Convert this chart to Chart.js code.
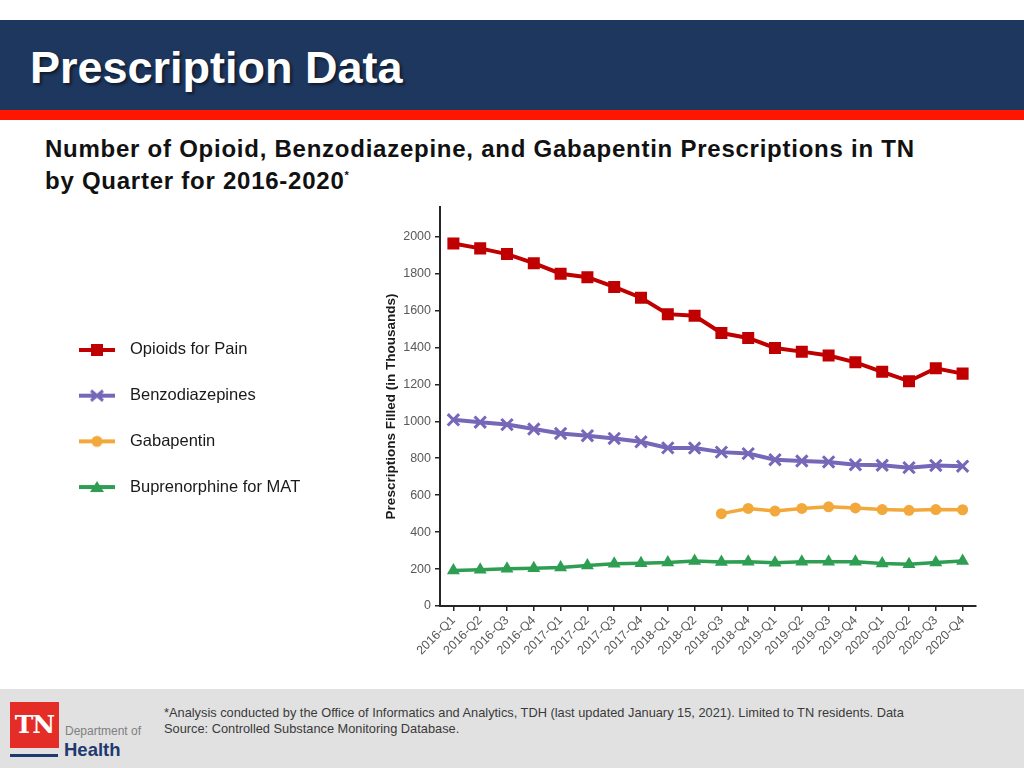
<!DOCTYPE html>
<html lang="en">
<head>
<meta charset="utf-8">
<title>Prescription Data</title>
<script src="https://cdn.jsdelivr.net/npm/chart.js@4.4.1/dist/chart.umd.min.js"></script>
<style>
  html, body { margin: 0; padding: 0; }
  body {
    width: 1024px; height: 768px; position: relative; overflow: hidden;
    background: #ffffff; font-family: Arial, "Liberation Sans", Helvetica, sans-serif;
  }
  .bandeau { position: absolute; left: 0; top: 20px; width: 1024px; height: 90px; background: #1e375e; }
  .liseret { position: absolute; left: 0; top: 110px; width: 1024px; height: 10px; background: #ff1500; }
  .titre {
    position: absolute; left: 30px; top: 45px; margin: 0;
    font-size: 45px; line-height: 45px; font-weight: bold; color: #ffffff;
    text-shadow: 2px 2px 3px rgba(0, 0, 0, 0.55);
  }
  .sous-titre {
    position: absolute; left: 45px; top: 133px; margin: 0;
    font-size: 24px; line-height: 32px; font-weight: bold; color: #111111; letter-spacing: 0.75px;
  }
  .sous-titre sup { font-size: 11px; vertical-align: 10px; line-height: 0; }
  #zone { position: absolute; left: 43px; top: 190px; }
  .pied { position: absolute; left: 0; top: 689px; width: 1024px; height: 79px; background: #e1e1e1; }
  .note {
    position: absolute; left: 164px; top: 705px; margin: 0;
    font-size: 12.8px; line-height: 16px; color: #3a3a3a;
  }
  .logo-tn {
    position: absolute; left: 10px; top: 702px; width: 49px; height: 46px; background: #e42d26;
    color: #ffffff; font-family: "DejaVu Serif", "Liberation Serif", serif; font-weight: bold;
    font-size: 25px; line-height: 46px; text-align: center; letter-spacing: -1px;
  }
  .logo-trait { position: absolute; left: 10px; top: 754px; width: 48px; height: 3px; background: #1f3a6e; }
  .logo-dep { position: absolute; left: 65px; top: 725px; font-size: 12px; line-height: 13px; color: #7f7f7f; }
  .logo-sante {
    position: absolute; left: 64px; top: 740px; font-size: 18.5px; line-height: 19px;
    font-weight: bold; color: #1f3a6e;
  }
</style>
</head>
<body>
<div class="bandeau"></div>
<div class="liseret"></div>
<h1 class="titre">Prescription Data</h1>
<p class="sous-titre">Number of Opioid, Benzodiazepine, and Gabapentin Prescriptions in TN<br>by Quarter for 2016-2020<sup>*</sup></p>

<canvas id="zone" width="947" height="480"></canvas>

<div class="pied"></div>
<p class="note">*Analysis conducted by the Office of Informatics and Analytics, TDH (last updated January 15, 2021). Limited to TN residents. Data<br>Source: Controlled Substance Monitoring Database.</p>
<div class="logo-tn">TN</div>
<div class="logo-trait"></div>
<div class="logo-dep">Department of</div>
<div class="logo-sante">Health</div>

<script>
// Trimestres 2016-2020
const TRIMESTRES = [
    '2016-Q1', '2016-Q2', '2016-Q3', '2016-Q4',
    '2017-Q1', '2017-Q2', '2017-Q3', '2017-Q4',
    '2018-Q1', '2018-Q2', '2018-Q3', '2018-Q4',
    '2019-Q1', '2019-Q2', '2019-Q3', '2019-Q4',
    '2020-Q1', '2020-Q2', '2020-Q3', '2020-Q4'
];

// Prescriptions délivrées (en milliers)
const OPIOIDES = [1962, 1936, 1905, 1856, 1799, 1780, 1727, 1669, 1580, 1571,
                  1478, 1451, 1397, 1377, 1356, 1319, 1268, 1217, 1287, 1258];
const BENZODIAZEPINES = [1008, 995, 982, 958, 934, 922, 907, 889, 856, 855,
                         833, 825, 792, 785, 780, 765, 762, 749, 761, 757];
const GABAPENTINE = [null, null, null, null, null, null, null, null, null, null,
                     500, 528, 514, 528, 537, 531, 522, 518, 522, 521];
const BUPRENORPHINE = [192, 196, 201, 204, 209, 219, 229, 232, 235, 243,
                       238, 240, 234, 239, 240, 240, 230, 226, 235, 244];

// Graduations de l'axe vertical
const GRADUATIONS_Y = [0, 200, 400, 600, 800, 1000, 1200, 1400, 1600, 1800, 2000];

const COULEURS = {
    opioides : '#c00000',
    benzo    : '#7667b8',
    gaba     : '#f2a83a',
    bupre    : '#2e9e52'
};

Chart.defaults.font.family = 'Arial, "Liberation Sans", Helvetica, sans-serif';

/**
 * Petite icône de légende : un trait avec le marqueur au milieu.
 */
function creerIcone(couleur, forme) {
    const c = document.createElement('canvas');
    c.width = 36;
    c.height = 16;
    const ctx = c.getContext('2d');
    ctx.strokeStyle = couleur;
    ctx.fillStyle = couleur;
    ctx.lineWidth = 4;
    ctx.beginPath();
    ctx.moveTo(0, 8);
    ctx.lineTo(36, 8);
    ctx.stroke();

    ctx.beginPath();
    if (forme === 'rect') {
        ctx.fillRect(12, 2, 12, 12);
    } else if (forme === 'croix') {
        ctx.lineWidth = 3;
        ctx.moveTo(12, 3); ctx.lineTo(24, 13);
        ctx.moveTo(24, 3); ctx.lineTo(12, 13);
        ctx.stroke();
    } else if (forme === 'rond') {
        ctx.arc(18, 8, 5.5, 0, Math.PI * 2);
        ctx.fill();
    } else {
        ctx.moveTo(18, 2); ctx.lineTo(25, 13); ctx.lineTo(11, 13);
        ctx.closePath();
        ctx.fill();
    }
    return c;
}

const ICONES = [
    creerIcone(COULEURS.opioides, 'rect'),
    creerIcone(COULEURS.benzo, 'croix'),
    creerIcone(COULEURS.gaba, 'rond'),
    creerIcone(COULEURS.bupre, 'triangle')
];

// Élargit la légende pour laisser l'espace avant l'axe Y
const largeurLegende = {
    id : 'largeurLegende',
    beforeInit(chart) {
        const fitOrigine = chart.legend.fit;
        chart.legend.fit = function () {
            fitOrigine.call(this);
            this.width = 340;
        };
    }
};

const axeCommun = {
    border : { color: '#262626', width: 2 },
    grid   : { drawOnChartArea: false, tickLength: 5, color: '#262626', lineWidth: 1.5 }
};

new Chart(document.getElementById('zone'), {
    type : 'line',
    data : {
        labels   : TRIMESTRES,
        datasets : [
            {
                label            : 'Opioids for Pain',
                data             : OPIOIDES,
                borderColor      : COULEURS.opioides,
                backgroundColor  : COULEURS.opioides,
                borderWidth      : 4,
                pointStyle       : 'rect',
                pointRadius      : 8.5,
                pointBorderWidth : 0
            },
            {
                label            : 'Benzodiazepines',
                data             : BENZODIAZEPINES,
                borderColor      : COULEURS.benzo,
                backgroundColor  : COULEURS.benzo,
                borderWidth      : 4,
                pointStyle       : 'crossRot',
                pointRadius      : 8,
                pointBorderWidth : 3
            },
            {
                label            : 'Gabapentin',
                data             : GABAPENTINE,
                borderColor      : COULEURS.gaba,
                backgroundColor  : COULEURS.gaba,
                borderWidth      : 3.5,
                pointStyle       : 'circle',
                pointRadius      : 5.5,
                pointBorderWidth : 0
            },
            {
                label            : 'Buprenorphine for MAT',
                data             : BUPRENORPHINE,
                borderColor      : COULEURS.bupre,
                backgroundColor  : COULEURS.bupre,
                borderWidth      : 3.5,
                pointStyle       : 'triangle',
                pointRadius      : 7.5,
                pointBorderWidth : 0
            }
        ]
    },
    options : {
        responsive : false,
        animation  : false,
        layout     : { padding: { top: 17, right: 14, bottom: 14, left: 0 } },
        elements   : { line: { tension: 0 } },
        plugins : {
            tooltip : { enabled: false },
            legend  : {
                position : 'left',
                align    : 'start',
                title    : { display: true, text: '', font: { size: 10 }, padding: { top: 93.5, bottom: 0 } },
                labels   : {
                    usePointStyle   : true,
                    pointStyleWidth : 49.5,
                    padding         : 29.2,
                    color           : '#1a1a1a',
                    font            : { size: 16.5 },
                    generateLabels(chart) {
                        const items = Chart.defaults.plugins.legend.labels.generateLabels(chart);
                        items.forEach((item, i) => { item.pointStyle = ICONES[i]; });
                        return items;
                    }
                }
            }
        },
        scales : {
            x : {
                ...axeCommun,
                offset : true,
                grid   : { ...axeCommun.grid, offset: false },
                ticks  : { color: '#595959', font: { size: 12.5 }, minRotation: 45, maxRotation: 45, autoSkip: false, padding: 2 },
                afterFit(scale) { scale.height = 50; }
            },
            y : {
                ...axeCommun,
                min   : 0,
                max   : 2160,
                ticks : { color: '#595959', font: { size: 12.5 }, padding: 4, callback: v => String(v) },
                afterBuildTicks(scale) {
                    scale.ticks = GRADUATIONS_Y.map(v => ({ value: v }));
                },
                title : {
                    display : true,
                    text    : 'Prescriptions Filled (in Thousands)',
                    color   : '#1a1a1a',
                    font    : { size: 13.5, weight: 'bold' },
                    padding : { top: 0, bottom: 4 }
                },
                afterFit(scale) { scale.width = 57; }
            }
        }
    },
    plugins : [largeurLegende]
});
</script>
</body>
</html>
